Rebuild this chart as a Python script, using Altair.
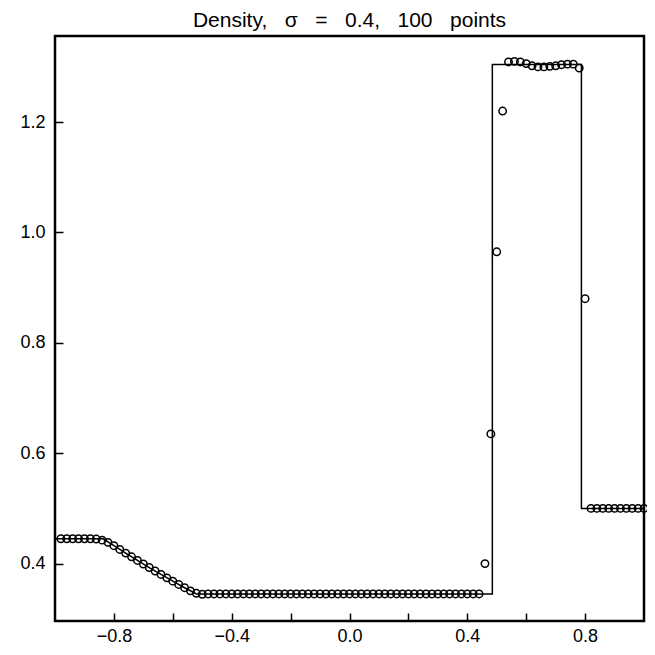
import altair as alt
import pandas as pd

TITLE = "Density,\u00a0\u00a0\u00a0\u03c3\u00a0\u00a0\u00a0=\u00a0\u00a0\u00a00.4,\u00a0\u00a0\u00a0100\u00a0\u00a0\u00a0points"
FONT = "Liberation Sans"

# numerical solution: 100 grid points
x_grid = [round(-0.98 + 0.02 * i, 2) for i in range(100)]
rho_num = (
    [0.445] * 6
    + [0.4445, 0.4425, 0.4385, 0.4325, 0.4257, 0.4190, 0.4123, 0.4057, 0.3993,
       0.3929, 0.3866, 0.3804, 0.3742, 0.3682, 0.3622, 0.3563, 0.3506, 0.3462, 0.3445]
    + [0.345] * 47
    + [0.400, 0.635, 0.965, 1.220, 1.309, 1.310, 1.309, 1.306, 1.302, 1.300,
       1.300, 1.301, 1.302, 1.304, 1.305, 1.305, 1.298, 0.880]
    + [0.5] * 10
)

# exact solution polyline
x_exact = [-1.0, -0.836, -0.80, -0.76, -0.72, -0.68, -0.64, -0.60, -0.56, -0.5195,
           0.485, 0.485, 0.7875, 0.7875, 1.0]
rho_exact = [0.445, 0.445, 0.4325, 0.4190, 0.4057, 0.3929, 0.3804, 0.3682, 0.3563, 0.345,
             0.345, 1.3044, 1.3044, 0.5, 0.5]

x_ticks = [-0.8, -0.6, -0.4, -0.2, 0.0, 0.2, 0.4, 0.6, 0.8]
y_ticks = [0.4, 0.6, 0.8, 1.0, 1.2]

num_df = pd.DataFrame({"x": x_grid, "rho": rho_num})
ex_df = pd.DataFrame({"x": x_exact, "rho": rho_exact, "order": list(range(len(x_exact)))})

xscale = alt.Scale(domain=[-1.0, 1.0], nice=False, zero=False)
yscale = alt.Scale(domain=[0.296, 1.356], nice=False, zero=False)

xaxis = alt.Axis(
    values=x_ticks, offset=-8, tickSize=8, tickWidth=1.5, tickColor="black",
    domain=False, grid=False, title=None, labelFontSize=18, labelFont=FONT,
    labelColor="black", labelPadding=6, labelOverlap=False,
    labelExpr="abs(round(datum.value*10)) % 4 == 0 ? format(datum.value, '.1f') : ''",
)
yaxis = alt.Axis(
    values=y_ticks, offset=-8, tickSize=8, tickWidth=1.5, tickColor="black",
    domain=False, grid=False, title=None, labelFontSize=18, labelFont=FONT,
    labelColor="black", labelPadding=10, format=".1f", labelOverlap=False,
)

line = alt.Chart(ex_df).mark_line(color="black", strokeWidth=1.5).encode(
    x=alt.X("x:Q", scale=xscale, axis=xaxis),
    y=alt.Y("rho:Q", scale=yscale, axis=yaxis),
    order="order:Q",
)

pts = alt.Chart(num_df).mark_point(
    shape="circle", filled=False, color="black", size=55, strokeWidth=1.5, opacity=1
).encode(
    x=alt.X("x:Q", scale=xscale),
    y=alt.Y("rho:Q", scale=yscale),
)

chart = (
    alt.layer(line, pts)
    .properties(
        width=589,
        height=585,
        title=alt.TitleParams(TITLE, fontSize=21, font=FONT, fontWeight="normal",
                              anchor="middle", color="black", offset=5),
        autosize=alt.AutoSizeParams(type="none"),
        padding={"left": 47, "top": 28, "right": 3, "bottom": 26},
    )
    .configure_view(stroke="black", strokeWidth=2.5)
)

chart.save("out.html", embed_options={"renderer": "svg", "actions": False})
